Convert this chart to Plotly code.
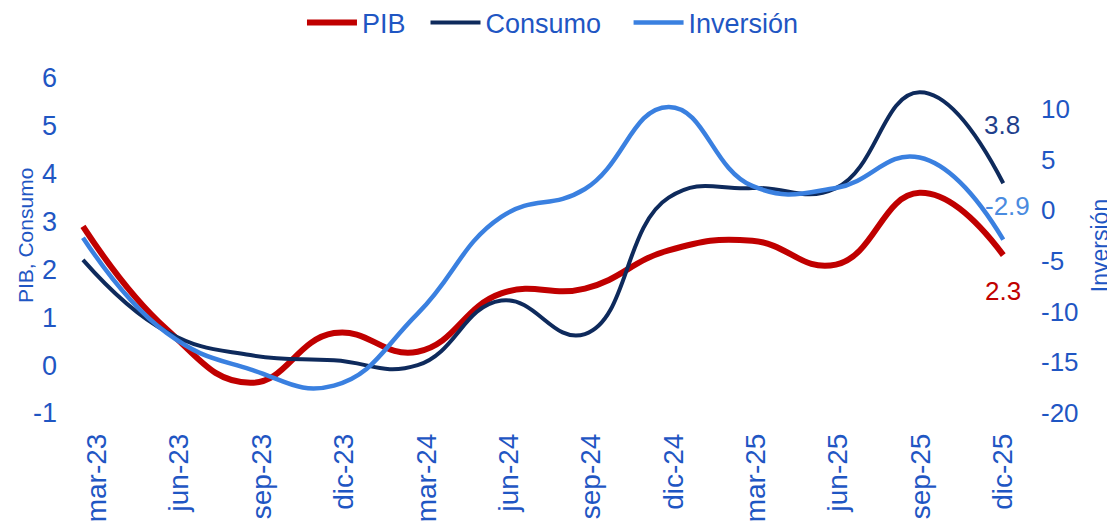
import plotly.graph_objects as go

quarters = ["mar-23", "jun-23", "sep-23", "dic-23", "mar-24", "jun-24",
            "sep-24", "dic-24", "mar-25", "jun-25", "sep-25", "dic-25"]
pib = [2.9, 0.75, -0.37, 0.67, 0.28, 1.5, 1.6, 2.4, 2.6, 2.1, 3.6, 2.3]
consumo = [2.2, 0.7, 0.21, 0.1, 0.0, 1.35, 0.65, 3.5, 3.7, 3.7, 5.7, 3.8]
inversion = [-2.7, -12.1, -15.7, -17.3, -10.2, -0.65, 2.1, 10.2, 2.4, 2.2, 5.2, -2.9]

left_ticks = [-1, 0, 1, 2, 3, 4, 5, 6]
right_ticks = [-20, -15, -10, -5, 0, 5, 10]

RED = "#C00000"
NAVY = "#0E2A5C"
LBLUE = "#3A80E0"
TXT = "#1F56C3"
FONT = "Liberation Sans, Arial, sans-serif"

fig = go.Figure()
fig.add_trace(go.Scatter(x=quarters, y=pib, name="PIB\u00a0\u00a0", mode="lines",
                         line=dict(color=RED, width=6, shape="spline", smoothing=1.3)))
fig.add_trace(go.Scatter(x=quarters, y=consumo, name="Consumo\u00a0\u00a0\u00a0", mode="lines",
                         line=dict(color=NAVY, width=4, shape="spline", smoothing=1.3)))
fig.add_trace(go.Scatter(x=quarters, y=inversion, name="Inversión", mode="lines", yaxis="y2",
                         line=dict(color=LBLUE, width=4.5, shape="spline", smoothing=1.3)))
# empty carrier trace so the label-only category axis is drawn
fig.add_trace(go.Scatter(x=quarters, y=[None] * len(quarters), xaxis="x2", mode="lines",
                         showlegend=False, hoverinfo="skip"))

# end labels
fig.add_annotation(x=quarters[-1], y=consumo[-1], text=f"{consumo[-1]:.1f}", showarrow=False,
                   xshift=-1, yshift=58, font=dict(color="#1F3F8C", size=26, family=FONT))
fig.add_annotation(x=quarters[-1], y=inversion[-1], yref="y2", text=f"{inversion[-1]:.1f}",
                   showarrow=False, xshift=4, yshift=34, font=dict(color="#4A8BE0", size=26, family=FONT))
fig.add_annotation(x=quarters[-1], y=pib[-1], text=f"{pib[-1]:.1f}", showarrow=False,
                   xshift=0, yshift=-36, font=dict(color=RED, size=26, family=FONT))

# axis titles
fig.add_annotation(xref="paper", yref="paper", x=-0.0474, y=0.531, text="PIB, Consumo",
                   textangle=-90, showarrow=False, xanchor="center", yanchor="middle",
                   font=dict(size=21, color=TXT, family=FONT))
fig.add_annotation(xref="paper", yref="paper", x=1.0842, y=0.501, text="Inversión",
                   textangle=-90, showarrow=False, xanchor="center", yanchor="middle",
                   font=dict(size=23, color=TXT, family=FONT))

# page body has an 8px margin, so the figure is 8px smaller and everything is shifted up/left
fig.update_layout(
    width=1107, height=514,
    margin=dict(l=62, r=95, t=70, b=109),
    plot_bgcolor="white", paper_bgcolor="white",
    font=dict(family=FONT, color=TXT),
    showlegend=True,
    legend=dict(orientation="h", xref="container", yref="container",
                x=0.4923, xanchor="center", y=0.9708, yanchor="middle",
                font=dict(size=27, color=TXT, family=FONT), itemwidth=50,
                tracegroupgap=0, bgcolor="rgba(0,0,0,0)"),
    xaxis=dict(type="category", range=[-0.155, 11.2], showgrid=False, zeroline=False,
               showline=False, ticks="", showticklabels=False, automargin=False),
    # label-only axis: category labels spaced slightly tighter, as in the reference
    xaxis2=dict(type="category", categoryarray=quarters, categoryorder="array",
                range=[-0.328, 11.206],
                overlaying="x", side="bottom", anchor="y",
                showgrid=False, zeroline=False, showline=False, ticks="",
                tickangle=-90, ticklabelstandoff=14, automargin=False,
                tickfont=dict(size=28, color=TXT, family=FONT)),
    yaxis=dict(range=[-1, 6], tickvals=left_ticks, ticktext=[str(v) for v in left_ticks],
               showgrid=False, zeroline=False, automargin=False,
               showline=False, ticks="", ticklabelstandoff=12,
               tickfont=dict(size=27, color=TXT, family=FONT)),
    yaxis2=dict(range=[-20, 13.05], tickvals=right_ticks, ticktext=[str(v) for v in right_ticks],
                overlaying="y", side="right", automargin=False,
                showgrid=False, zeroline=False, showline=False, ticks="", ticklabelstandoff=20,
                tickfont=dict(size=26, color=TXT, family=FONT)),
)

fig.write_html("out.html")
